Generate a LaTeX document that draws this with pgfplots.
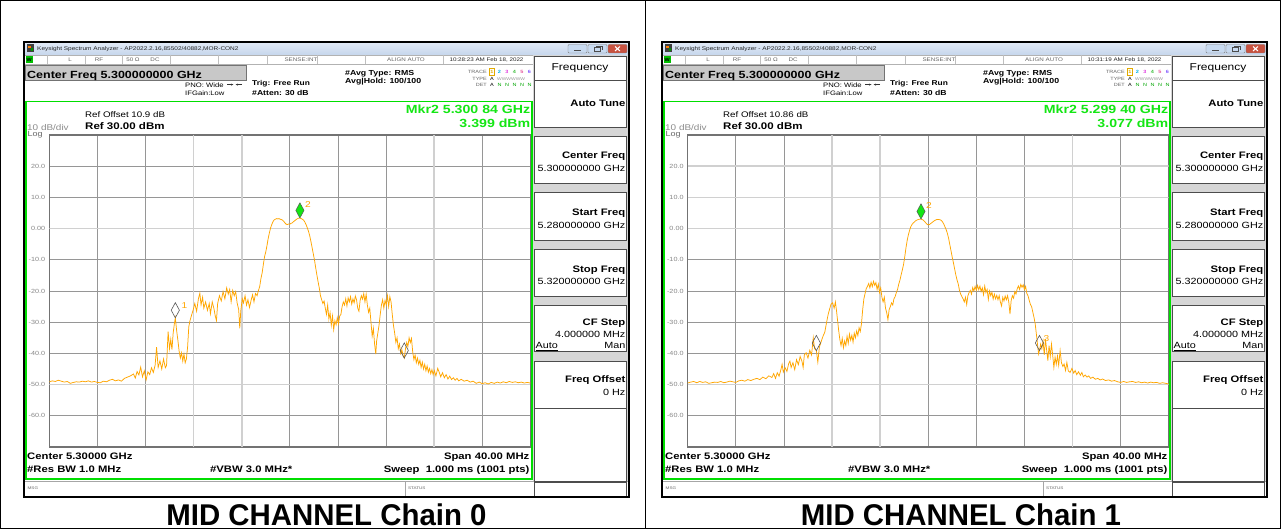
\documentclass[border=0pt]{standalone}
\usepackage{pgfplots}
\pgfplotsset{compat=1.18}
\usepackage{pgfplotstable}
\usepackage{fontspec}
\usetikzlibrary{arrows.meta}
\setmainfont{Liberation Sans}
\newfontfamily\ui[FakeStretch=1.2]{Liberation Sans}
\newfontfamily\titlefont[FakeStretch=0.98]{Liberation Sans}
\newcommand\fs[1]{\fontsize{#1}{#1}\selectfont}

\definecolor{trace}{RGB}{255,166,0}
\definecolor{scrgreen}{RGB}{0,222,0}
\definecolor{mkrgreen}{RGB}{20,230,20}
\definecolor{titletop}{RGB}{224,233,246}
\definecolor{titlebot}{RGB}{198,214,236}
\definecolor{keygap}{RGB}{214,214,214}
\definecolor{gridgray}{RGB}{150,150,150}
\definecolor{gridlight}{RGB}{208,208,208}
\definecolor{lblgray}{RGB}{135,135,135}
\definecolor{cfbox}{RGB}{200,200,200}
\definecolor{closered}{RGB}{200,82,64}
\definecolor{btnblue}{RGB}{200,218,240}
\definecolor{tr1}{RGB}{225,170,0}
\definecolor{tr2}{RGB}{0,180,230}
\definecolor{tr3}{RGB}{225,60,225}
\definecolor{tr4}{RGB}{60,190,60}
\definecolor{tr5}{RGB}{230,90,160}
\definecolor{tr6}{RGB}{130,90,255}

% Chain 0 trace: offset from 5.30 GHz (MHz), level (dBm)
\pgfplotstableread[row sep=\\]{
x y\\
-20.00 -49.1\\ -19.75 -48.8\\ -19.50 -49.0\\ -19.25 -48.6\\ -19.00 -48.9\\ -18.75 -49.2\\
-18.50 -49.0\\ -18.25 -49.6\\ -18.00 -49.3\\ -17.75 -49.1\\ -17.50 -49.2\\ -17.25 -48.9\\
-17.00 -49.1\\ -16.75 -48.8\\ -16.50 -49.2\\ -16.25 -49.0\\ -16.00 -49.3\\ -15.75 -49.4\\
-15.50 -48.9\\ -15.25 -49.1\\ -15.00 -48.6\\ -14.75 -48.3\\ -14.50 -48.8\\ -14.25 -48.5\\
-14.00 -48.9\\ -13.75 -48.0\\ -13.50 -47.6\\ -13.25 -47.2\\ -13.00 -46.6\\ -12.85 -47.9\\
-12.70 -45.8\\ -12.55 -46.9\\ -12.40 -44.4\\ -12.25 -47.5\\ -12.10 -45.6\\ -11.95 -48.5\\
-11.80 -45.9\\ -11.65 -46.8\\ -11.50 -44.6\\ -11.35 -46.1\\ -11.20 -43.8\\ -11.08 -38.0\\
-10.95 -44.5\\ -10.80 -42.4\\ -10.65 -45.0\\ -10.50 -41.8\\ -10.35 -44.6\\ -10.25 -43.9\\
-10.12 -33.0\\ -10.00 -38.5\\ -9.90 -35.5\\ -9.80 -38.8\\ -9.70 -33.5\\ -9.60 -30.5\\
-9.52 -28.6\\ -9.42 -32.4\\ -9.30 -36.0\\ -9.20 -39.4\\ -9.10 -41.5\\ -9.00 -39.8\\
-8.90 -42.5\\ -8.80 -40.2\\ -8.70 -43.0\\ -8.60 -41.8\\ -8.50 -38.0\\ -8.40 -31.5\\
-8.30 -29.5\\ -8.15 -27.5\\ -8.03 -26.0\\ -7.90 -24.0\\ -7.75 -26.5\\ -7.60 -22.5\\
-7.48 -20.7\\ -7.38 -24.5\\ -7.25 -22.0\\ -7.15 -25.5\\ -7.00 -23.5\\ -6.85 -26.2\\
-6.70 -24.0\\ -6.60 -27.3\\ -6.45 -23.5\\ -6.30 -25.8\\ -6.20 -28.0\\ -6.10 -29.5\\
-6.00 -24.0\\ -5.85 -21.5\\ -5.70 -23.2\\ -5.55 -20.2\\ -5.40 -22.5\\ -5.25 -19.0\\
-5.12 -21.0\\ -5.00 -19.5\\ -4.88 -23.5\\ -4.75 -19.8\\ -4.62 -21.5\\ -4.50 -20.2\\
-4.38 -23.8\\ -4.25 -26.0\\ -4.16 -32.0\\ -4.08 -26.5\\ -3.95 -22.5\\ -3.85 -23.8\\
-3.72 -21.5\\ -3.60 -24.5\\ -3.48 -22.8\\ -3.35 -25.3\\ -3.22 -23.0\\ -3.10 -21.2\\
-2.98 -23.5\\ -2.85 -20.8\\ -2.72 -21.5\\ -2.62 -20.0\\ -2.50 -18.5\\ -2.40 -16.0\\
-2.30 -14.2\\ -2.20 -11.5\\ -2.10 -9.0\\ -2.00 -7.5\\ -1.90 -5.5\\ -1.80 -3.2\\
-1.70 -1.4\\ -1.60 0.2\\ -1.50 1.3\\ -1.40 2.2\\ -1.30 2.8\\ -1.20 3.0\\
-1.10 3.2\\ -1.00 3.1\\ -0.90 3.2\\ -0.80 3.0\\ -0.70 2.9\\ -0.60 2.7\\
-0.50 2.3\\ -0.40 1.8\\ -0.30 1.4\\ -0.20 1.3\\ -0.10 1.5\\ 0.00 1.4\\
0.10 1.7\\ 0.20 1.8\\ 0.30 2.2\\ 0.40 2.5\\ 0.50 2.8\\ 0.60 3.1\\
0.70 3.3\\ 0.84 3.399\\ 0.95 3.2\\ 1.05 3.0\\ 1.15 2.7\\ 1.25 2.1\\
1.35 1.3\\ 1.45 0.3\\ 1.55 -0.8\\ 1.65 -2.2\\ 1.75 -4.0\\ 1.85 -6.0\\
1.95 -8.0\\ 2.05 -10.0\\ 2.15 -12.5\\ 2.25 -14.8\\ 2.35 -17.0\\ 2.45 -19.0\\
2.55 -21.5\\ 2.65 -22.8\\ 2.75 -24.0\\ 2.85 -23.2\\ 2.95 -25.5\\ 3.05 -27.5\\
3.15 -24.5\\ 3.25 -29.0\\ 3.35 -27.0\\ 3.45 -31.0\\ 3.55 -28.0\\ 3.65 -32.4\\
3.75 -29.5\\ 3.85 -30.8\\ 3.95 -28.5\\ 4.05 -30.5\\ 4.15 -28.0\\ 4.25 -27.5\\
4.35 -25.0\\ 4.45 -23.5\\ 4.55 -24.5\\ 4.65 -22.5\\ 4.75 -24.8\\ 4.85 -22.2\\
4.95 -23.5\\ 5.05 -21.8\\ 5.15 -24.2\\ 5.25 -22.5\\ 5.35 -23.8\\ 5.45 -21.6\\
5.55 -22.8\\ 5.65 -25.5\\ 5.75 -26.5\\ 5.85 -23.0\\ 5.95 -21.5\\ 6.05 -22.6\\
6.15 -20.8\\ 6.25 -23.5\\ 6.35 -21.0\\ 6.45 -24.5\\ 6.55 -26.8\\ 6.65 -25.5\\
6.75 -30.0\\ 6.85 -34.5\\ 6.95 -32.0\\ 7.05 -37.0\\ 7.15 -40.2\\ 7.22 -36.0\\
7.32 -33.5\\ 7.42 -31.0\\ 7.52 -27.5\\ 7.62 -24.5\\ 7.72 -22.8\\ 7.82 -25.5\\
7.92 -23.0\\ 8.02 -24.5\\ 8.12 -21.5\\ 8.22 -25.0\\ 8.32 -21.8\\ 8.42 -23.5\\
8.52 -27.5\\ 8.62 -31.0\\ 8.72 -33.5\\ 8.82 -36.5\\ 8.92 -35.0\\ 9.02 -38.5\\
9.12 -37.0\\ 9.22 -40.0\\ 9.32 -38.8\\ 9.42 -40.8\\ 9.52 -41.5\\ 9.62 -38.5\\
9.72 -36.5\\ 9.82 -37.8\\ 9.92 -35.0\\ 10.02 -36.5\\ 10.12 -35.2\\ 10.22 -39.5\\
10.32 -42.0\\ 10.42 -40.5\\ 10.52 -43.0\\ 10.62 -41.5\\ 10.72 -43.5\\ 10.82 -42.2\\
10.92 -44.5\\ 11.02 -42.8\\ 11.12 -45.0\\ 11.22 -43.5\\ 11.32 -45.6\\ 11.42 -44.0\\
11.52 -46.0\\ 11.62 -44.8\\ 11.72 -46.5\\ 11.82 -45.2\\ 11.92 -46.8\\ 12.02 -45.5\\
12.15 -47.2\\ 12.30 -44.8\\ 12.42 -46.0\\ 12.55 -47.5\\ 12.70 -46.2\\ 12.85 -47.8\\
13.00 -46.8\\ 13.15 -48.2\\ 13.30 -47.3\\ 13.45 -48.4\\ 13.60 -47.8\\ 13.75 -48.6\\
13.90 -48.0\\ 14.05 -48.8\\ 14.25 -48.3\\ 14.50 -48.9\\ 14.75 -48.6\\ 15.00 -49.2\\
15.25 -48.9\\ 15.50 -49.6\\ 15.75 -49.2\\ 16.00 -49.7\\ 16.25 -49.4\\ 16.50 -49.8\\
16.75 -49.3\\ 17.00 -49.6\\ 17.25 -49.2\\ 17.50 -49.5\\ 17.75 -49.1\\ 18.00 -49.4\\
18.25 -49.0\\ 18.50 -49.3\\ 18.75 -49.1\\ 19.00 -49.4\\ 19.25 -49.2\\ 19.50 -49.5\\
19.75 -49.3\\ 20.00 -49.5\\
}\chainzero

% Chain 1 trace
\pgfplotstableread[row sep=\\]{
x y\\
-20.00 -49.5\\ -19.75 -49.2\\ -19.50 -49.0\\ -19.25 -49.4\\ -19.00 -49.0\\ -18.75 -49.3\\
-18.50 -49.1\\ -18.25 -49.6\\ -18.00 -49.4\\ -17.75 -49.2\\ -17.50 -49.3\\ -17.25 -49.0\\
-17.00 -49.4\\ -16.75 -49.2\\ -16.50 -48.9\\ -16.25 -49.1\\ -16.00 -49.3\\ -15.75 -48.8\\
-15.50 -48.6\\ -15.25 -48.9\\ -15.00 -48.4\\ -14.75 -48.7\\ -14.50 -48.3\\ -14.25 -48.0\\
-14.00 -48.4\\ -13.75 -47.6\\ -13.50 -48.1\\ -13.25 -47.2\\ -13.00 -47.7\\ -12.85 -46.5\\
-12.70 -48.0\\ -12.55 -46.2\\ -12.40 -47.3\\ -12.25 -45.2\\ -12.15 -43.5\\ -12.05 -46.0\\
-11.90 -44.6\\ -11.75 -45.8\\ -11.60 -43.2\\ -11.50 -42.5\\ -11.40 -44.5\\ -11.25 -43.0\\
-11.10 -45.2\\ -10.95 -42.0\\ -10.80 -43.6\\ -10.65 -41.0\\ -10.50 -42.5\\ -10.40 -44.5\\
-10.30 -40.5\\ -10.15 -39.8\\ -10.00 -41.5\\ -9.85 -39.0\\ -9.70 -40.5\\ -9.56 -35.0\\
-9.45 -38.5\\ -9.30 -39.1\\ -9.18 -42.8\\ -9.05 -38.0\\ -8.90 -36.2\\ -8.75 -34.5\\
-8.60 -33.2\\ -8.45 -30.0\\ -8.32 -27.5\\ -8.20 -25.8\\ -8.08 -24.2\\ -7.95 -23.8\\
-7.82 -25.5\\ -7.72 -23.5\\ -7.62 -26.5\\ -7.55 -29.0\\ -7.45 -32.5\\ -7.35 -35.5\\
-7.25 -37.5\\ -7.15 -35.2\\ -7.05 -38.2\\ -6.95 -36.0\\ -6.85 -37.5\\ -6.75 -34.5\\
-6.65 -36.8\\ -6.55 -33.8\\ -6.45 -35.8\\ -6.35 -34.2\\ -6.25 -36.4\\ -6.15 -33.5\\
-6.05 -35.0\\ -5.95 -32.8\\ -5.85 -34.3\\ -5.75 -31.8\\ -5.65 -33.0\\ -5.55 -30.5\\
-5.45 -26.0\\ -5.35 -22.5\\ -5.25 -20.8\\ -5.15 -19.2\\ -5.05 -18.5\\ -4.95 -17.6\\
-4.85 -19.0\\ -4.75 -17.2\\ -4.65 -18.6\\ -4.55 -16.9\\ -4.45 -18.2\\ -4.35 -17.3\\
-4.25 -19.5\\ -4.15 -17.8\\ -4.05 -20.5\\ -3.95 -19.0\\ -3.85 -22.0\\ -3.75 -23.5\\
-3.65 -22.0\\ -3.55 -25.5\\ -3.45 -27.0\\ -3.35 -29.2\\ -3.25 -26.0\\ -3.15 -25.0\\
-3.05 -23.8\\ -2.95 -24.5\\ -2.85 -22.5\\ -2.75 -21.8\\ -2.65 -20.5\\ -2.55 -19.5\\
-2.45 -17.8\\ -2.35 -16.5\\ -2.25 -14.8\\ -2.15 -13.2\\ -2.05 -11.5\\ -1.95 -9.0\\
-1.85 -6.2\\ -1.75 -3.8\\ -1.65 -2.0\\ -1.55 -0.6\\ -1.45 0.6\\ -1.35 1.3\\
-1.25 1.8\\ -1.15 2.1\\ -1.05 2.5\\ -0.95 2.7\\ -0.85 2.9\\ -0.75 3.0\\
-0.60 3.077\\ -0.50 2.9\\ -0.40 2.7\\ -0.30 2.3\\ -0.20 1.8\\ -0.10 1.4\\
0.00 1.2\\ 0.10 1.3\\ 0.20 1.6\\ 0.30 1.9\\ 0.40 2.2\\ 0.50 2.5\\
0.60 2.7\\ 0.70 2.9\\ 0.80 2.9\\ 0.90 2.9\\ 1.00 2.8\\ 1.10 2.6\\
1.20 2.1\\ 1.30 1.4\\ 1.40 0.5\\ 1.50 -0.4\\ 1.60 -1.6\\ 1.70 -3.2\\
1.80 -5.2\\ 1.90 -7.2\\ 2.00 -9.2\\ 2.10 -11.0\\ 2.20 -13.0\\ 2.30 -14.9\\
2.40 -16.5\\ 2.50 -17.8\\ 2.60 -19.8\\ 2.70 -21.0\\ 2.80 -21.8\\ 2.90 -22.5\\
3.00 -23.5\\ 3.10 -22.0\\ 3.20 -24.3\\ 3.30 -21.5\\ 3.40 -20.5\\ 3.50 -19.8\\
3.60 -21.0\\ 3.70 -18.9\\ 3.80 -20.0\\ 3.90 -18.5\\ 4.00 -19.8\\ 4.10 -18.2\\
4.20 -19.6\\ 4.30 -18.4\\ 4.40 -20.2\\ 4.50 -19.0\\ 4.60 -21.2\\ 4.70 -18.4\\
4.80 -20.5\\ 4.90 -19.5\\ 5.00 -22.7\\ 5.10 -20.0\\ 5.20 -21.5\\ 5.30 -20.4\\
5.40 -22.6\\ 5.50 -21.0\\ 5.60 -22.5\\ 5.70 -21.4\\ 5.80 -22.8\\ 5.90 -21.5\\
6.00 -23.5\\ 6.10 -24.8\\ 6.20 -22.0\\ 6.30 -23.2\\ 6.40 -21.6\\ 6.50 -22.8\\
6.60 -21.5\\ 6.70 -23.5\\ 6.80 -27.4\\ 6.90 -23.0\\ 7.00 -21.5\\ 7.10 -22.3\\
7.20 -20.2\\ 7.30 -21.0\\ 7.40 -19.3\\ 7.50 -18.4\\ 7.60 -19.5\\ 7.70 -17.9\\
7.80 -18.8\\ 7.90 -18.0\\ 8.00 -19.6\\ 8.10 -18.5\\ 8.20 -20.8\\ 8.30 -21.5\\
8.40 -23.0\\ 8.50 -24.3\\ 8.60 -25.0\\ 8.70 -26.8\\ 8.80 -28.5\\ 8.90 -30.6\\
9.00 -34.0\\ 9.10 -37.5\\ 9.18 -40.2\\ 9.25 -39.1\\ 9.35 -37.0\\ 9.45 -38.5\\
9.55 -36.0\\ 9.65 -40.5\\ 9.75 -35.4\\ 9.85 -39.0\\ 9.95 -42.3\\ 10.05 -37.5\\
10.15 -41.0\\ 10.25 -37.0\\ 10.35 -40.5\\ 10.45 -44.5\\ 10.55 -41.2\\ 10.65 -43.5\\
10.75 -40.8\\ 10.85 -43.8\\ 10.97 -39.1\\ 11.08 -43.0\\ 11.20 -44.2\\ 11.30 -43.4\\
11.42 -45.5\\ 11.53 -42.9\\ 11.65 -45.6\\ 11.80 -46.1\\ 11.95 -44.8\\ 12.10 -46.3\\
12.22 -45.5\\ 12.35 -46.8\\ 12.50 -45.9\\ 12.65 -47.0\\ 12.78 -46.1\\ 12.90 -47.5\\
13.05 -46.9\\ 13.20 -47.6\\ 13.35 -47.2\\ 13.50 -48.0\\ 13.70 -47.6\\ 13.90 -48.3\\
14.10 -48.0\\ 14.30 -48.5\\ 14.50 -48.2\\ 14.75 -48.7\\ 15.00 -48.5\\ 15.25 -48.9\\
15.50 -48.7\\ 15.75 -49.1\\ 16.00 -49.3\\ 16.25 -49.0\\ 16.50 -49.3\\ 16.75 -49.1\\
17.00 -49.0\\ 17.25 -49.3\\ 17.50 -49.1\\ 17.75 -49.4\\ 18.00 -49.2\\ 18.25 -49.5\\
18.50 -49.2\\ 18.75 -49.4\\ 19.00 -49.3\\ 19.25 -49.6\\ 19.50 -49.4\\ 19.75 -49.6\\
20.00 -49.8\\
}\chainone

% Instrument window around the graticule, in pixel units (y downwards)
% #1 x shift, #2 clock, #3 ref offset, #4 marker freq, #5 marker level, #6 chain, #7 caption centre
\newcommand\chrome[7]{%
\begin{scope}[shift={(#1pt,0pt)}, x=1pt, y=-1pt]
  \fill[white] (24,42) rectangle (629,497);
  % title bar
  \shade[top color=titletop, bottom color=titlebot] (25,43) rectangle (628,55);
  \fill[black!75] (26.5,44.5) rectangle (34,52.5);
  \fill[orange] (28,46) rectangle (30.5,48.5);
  \fill[green!60!black] (30.5,48.5) rectangle (33,51);
  \node[anchor=west, inner sep=0pt, font=\ui\fs{5.4}, text=black!85] at (37,49) {Keysight Spectrum Analyzer - AP2022.2.16,85502/40882,MOR-CON2};
  \draw[black!50, fill=btnblue, rounded corners=1pt] (568,44.5) rectangle (587,53);
  \draw[black!70, line width=1pt] (574,50.5) -- (581,50.5);
  \draw[black!50, fill=btnblue, rounded corners=1pt] (588,44.5) rectangle (607,53);
  \draw[black!70, line width=0.6pt] (594,47.5) rectangle (600,51.5) (596,46) -- (602,46) -- (602,50);
  \draw[black!50, fill=closered, rounded corners=1pt] (608,44.5) rectangle (627,53);
  \draw[white, line width=1pt] (615,46.5) -- (620,51) (620,46.5) -- (615,51);
  % status line
  \draw[black!30] (25,55) -- (533,55) (25,64.5) -- (533,64.5);
  \foreach \sx in {47,85,122,170,218,267,317,365,443} \draw[black!25] (\sx,55) -- (\sx,64.5);
  \fill[green!75!black] (25.5,56) rectangle (33,63.5);
  \node[inner sep=0pt, font=\ui\bfseries\fs{4.5}, text=black] at (29.2,59.8) {W};
  \begin{scope}[every node/.style={font=\ui\fs{5.2}, text=black!60, inner sep=0pt}]
    \node at (70,60) {L};
    \node at (99,60) {RF};
    \node at (133,60) {50 Ω};
    \node at (155,60) {DC};
    \node at (301,60) {SENSE:INT};
    \node at (406,60) {ALIGN AUTO};
    \node[text=black!85] at (486.5,60) {#2};
  \end{scope}
  % centre frequency banner
  \draw[black!55, fill=cfbox] (25.5,65.5) rectangle (246.5,80.5);
  \node[anchor=base west, inner sep=0pt, font=\ui\bfseries\fs{10.4}] at (27,78.3) {Center Freq 5.300000000 GHz};
  % acquisition settings
  \node[anchor=base west, inner sep=0pt, font=\ui\fs{6.4}] at (185,87.3) {PNO: Wide};
  \draw[black!80, line width=0.5pt, -{Stealth[length=2.5pt]}] (227,84.6) -- (233.5,84.6);
  \draw[black!80, line width=0.5pt, -{Stealth[length=2.5pt]}] (242,84.6) -- (235.5,84.6);
  \node[anchor=base west, inner sep=0pt, font=\ui\fs{6.4}] at (185,95.5) {IFGain:Low};
  \node[anchor=base west, inner sep=0pt, font=\ui\bfseries\fs{7.0}] at (252,85.5) {Trig: Free Run};
  \node[anchor=base west, inner sep=0pt, font=\ui\bfseries\fs{7.2}] at (252,95.3) {\#Atten: 30 dB};
  \node[anchor=base west, inner sep=0pt, font=\ui\bfseries\fs{7.3}] at (345,75.3) {\#Avg Type: RMS};
  \node[anchor=base west, inner sep=0pt, font=\ui\bfseries\fs{7.3}] at (345,83.8) {Avg|Hold: 100/100};
  % trace table
  \begin{scope}[every node/.style={inner sep=0pt, font=\ui\fs{4.6}, text=black!60}]
    \node[anchor=base east] at (487,73.5) {TRACE};
    \node[anchor=base east] at (487,80.3) {TYPE};
    \node[anchor=base east] at (487,87) {DET};
    \node[anchor=base, text=tr1] at (492,73.5) {\bfseries 1};
    \node[anchor=base, text=tr2] at (499.5,73.5) {\bfseries 2};
    \node[anchor=base, text=tr3] at (507,73.5) {\bfseries 3};
    \node[anchor=base, text=tr4] at (514.5,73.5) {\bfseries 4};
    \node[anchor=base, text=tr5] at (522,73.5) {\bfseries 5};
    \node[anchor=base, text=tr6] at (529.5,73.5) {\bfseries 6};
    \node[anchor=base, text=black] at (492,80.3) {A};
    \node[anchor=base west, text=black!40, font=\ui\fs{4.1}] at (497,80.3) {WWWWWW};
    \node[anchor=base, text=black] at (492,87) {A};
    \node[anchor=base, text=green!65!black] at (499.5,87) {N};
    \node[anchor=base, text=green!65!black] at (507,87) {N};
    \node[anchor=base, text=green!65!black] at (514.5,87) {N};
    \node[anchor=base, text=green!65!black] at (522,87) {N};
    \node[anchor=base, text=green!65!black] at (529.5,87) {N};
  \end{scope}
  \draw[tr1, line width=0.5pt] (489.3,68) rectangle (494.7,75);
  % graticule frame
  \draw[scrgreen, line width=1.8pt] (26.2,101.5) rectangle (531.8,479);
  \node[anchor=base west, inner sep=0pt, font=\ui\fs{8.1}] at (85,117.5) {Ref Offset #3 dB};
  \node[anchor=base west, inner sep=0pt, font=\ui\bfseries\fs{9.6}] at (85,130) {Ref 30.00 dBm};
  \node[anchor=base west, inner sep=0pt, font=\ui\fs{8.3}, text=black!45] at (27,130.5) {10 dB/div};
  \node[anchor=base west, inner sep=0pt, font=\ui\fs{7.5}, text=black!60] at (27.5,137) {Log};
  \node[anchor=base east, inner sep=0pt, font=\ui\bfseries\fs{11.8}, text=mkrgreen] at (530.5,113.5) {Mkr2 #4 GHz};
  \node[anchor=base east, inner sep=0pt, font=\ui\bfseries\fs{11.8}, text=mkrgreen] at (530.5,127.3) {#5 dBm};
  \begin{scope}[every node/.style={inner sep=0pt, font=\ui\bfseries\fs{9.4}}]
    \node[anchor=base west] at (27,459.5) {Center 5.30000 GHz};
    \node[anchor=base west] at (27,472.5) {\#Res BW 1.0 MHz};
    \node[anchor=base west] at (210,472.5) {\#VBW 3.0 MHz*};
    \node[anchor=base east] at (529.5,459.5) {Span 40.00 MHz};
    \node[anchor=base east] at (529.5,472.5) {Sweep\ \ 1.000 ms (1001 pts)};
  \end{scope}
  % message line
  \draw[black!35, line width=0.5pt] (25,481) -- (628,481) (405,481) -- (405,496);
  \node[anchor=west, inner sep=0pt, font=\ui\fs{3.8}, text=black!60] at (27.5,488.5) {MSG};
  \node[anchor=west, inner sep=0pt, font=\ui\fs{3.8}, text=black!60] at (408,488.5) {STATUS};
  % softkey column
  \fill[keygap] (533,55) rectangle (628,481);
  \foreach \ya/\yb in {56/80, 80/127.3, 136/183, 192.7/240, 249.3/296, 305.3/351.7, 361/408, 408/481}
    \draw[black!70, line width=0.8pt, fill=white] (534,\ya) rectangle (626.5,\yb);
  \draw[black!70, line width=0.8pt, fill=white] (534,482) rectangle (626.5,496);
  \node[anchor=base, inner sep=0pt, font=\ui\fs{10}] at (580,71) {Frequency};
  \begin{scope}[every node/.style={anchor=base east, inner sep=0pt, font=\ui\bfseries\fs{9.4}}]
    \node at (625.5,106.5) {Auto Tune};
    \node at (625.5,159) {Center Freq};
    \node at (625.5,215.7) {Start Freq};
    \node at (625.5,272.3) {Stop Freq};
    \node at (625.5,325.5) {CF Step};
    \node at (625.5,382) {Freq Offset};
  \end{scope}
  \begin{scope}[every node/.style={anchor=base east, inner sep=0pt, font=\ui\fs{9}}]
    \node at (625.5,171.5) {5.300000000 GHz};
    \node at (625.5,228.2) {5.280000000 GHz};
    \node at (625.5,284.8) {5.320000000 GHz};
    \node at (625.5,337.8) {4.000000 MHz};
    \node at (625.5,348.3) {Man};
    \node at (625.5,395) {0 Hz};
    \node[anchor=base west] at (535.5,348.3) {\underline{Auto}};
  \end{scope}
  % window border
  \draw[black, line width=2.4pt] (24.2,42.2) rectangle (628.8,497);
  % caption
  \node[anchor=base, inner sep=0pt, font=\titlefont\bfseries\fs{30}] at (#7,525) {MID CHANNEL Chain #6};
\end{scope}}

\tikzset{mkrlabel/.style={anchor=base west, inner sep=0pt, font=\ui\fs{8.5}, text=trace}}

\pgfplotsset{saview/.style={
  scale only axis, width=481pt, height=312pt, anchor=north west,
  xmin=-20, xmax=20, ymin=-70, ymax=30,
  xtick={-16,-12,...,16}, xticklabels={},
  ytick={-60,-50,...,20},
  yticklabels={-60.0,-50.0,-40.0,-30.0,-20.0,-10.0,0.00,10.0,20.0},
  yticklabel style={font=\ui\fs{6}, text=lblgray, inner sep=0pt, xshift=-4pt},
  major tick length=0pt,
  grid=major, major grid style={draw=gridgray, line width=0.7pt},
  axis line style={draw=black!55, line width=1.2pt},
  clip=true,
},
tracestyle/.style={color=trace, line width=0.75pt, mark=none},
activemkr/.style={only marks, mark=diamond*, mark size=7.6pt,
  mark options={draw=black!65, fill=mkrgreen, line width=0.5pt, yshift=7.6pt, xscale=0.72}},
idlemkr/.style={only marks, mark=diamond, mark size=7.6pt,
  mark options={draw=black!65, line width=0.6pt, yshift=7.6pt, xscale=0.72}},
}

\begin{document}
\begin{tikzpicture}
\path[use as bounding box] (0,0) rectangle (1281pt,-529pt);
\fill[white] (0,0) rectangle (1281pt,-529pt);
\chrome{0}{10:28:23 AM Feb 18, 2022}{10.9}{5.300 84}{3.399}{0}{326.5}
\chrome{638}{10:31:19 AM Feb 18, 2022}{10.86}{5.299 40}{3.077}{1}{323}
\draw[black, line width=1pt] (0.5pt,-0.5pt) rectangle (1280.5pt,-528.5pt);
\draw[black, line width=1pt] (645pt,0pt) -- (645pt,-529pt);

\begin{axis}[saview, at={(49.3pt,-135pt)}]
  \draw[gridlight, line width=1.6pt] (axis cs:-8,-70) -- (axis cs:-8,30)
    (axis cs:-4,-70) -- (axis cs:-4,30) (axis cs:12,-70) -- (axis cs:12,30)
    (axis cs:-20,0) -- (axis cs:20,0) (axis cs:-20,-50) -- (axis cs:20,-50);
  \addplot[tracestyle] table {\chainzero};
  \addplot[idlemkr] coordinates {(-9.52,-28.6) (9.52,-41.5)};
  \addplot[activemkr] coordinates {(0.84,3.399)};
  \node[mkrlabel, xshift=6pt, yshift=9.5pt] at (axis cs:-9.52,-28.6) {1};
  \node[mkrlabel, xshift=5pt, yshift=10pt] at (axis cs:0.84,3.399) {2};
\end{axis}

\begin{axis}[saview, at={(687.7pt,-135pt)}]
  \draw[gridlight, line width=1.6pt] (axis cs:-8,-70) -- (axis cs:-8,30)
    (axis cs:-4,-70) -- (axis cs:-4,30) (axis cs:12,-70) -- (axis cs:12,30)
    (axis cs:-20,20) -- (axis cs:20,20) (axis cs:-20,10) -- (axis cs:20,10)
    (axis cs:-20,0) -- (axis cs:20,0) (axis cs:-20,-50) -- (axis cs:20,-50);
  \addplot[tracestyle] table {\chainone};
  \addplot[idlemkr] coordinates {(-9.3,-39.1) (9.25,-39.1)};
  \addplot[activemkr] coordinates {(-0.6,3.077)};
  \node[mkrlabel, xshift=5pt, yshift=10pt] at (axis cs:-0.6,3.077) {2};
  \node[mkrlabel, xshift=4pt, yshift=9pt] at (axis cs:9.25,-39.1) {3};
\end{axis}
\end{tikzpicture}
\end{document}
